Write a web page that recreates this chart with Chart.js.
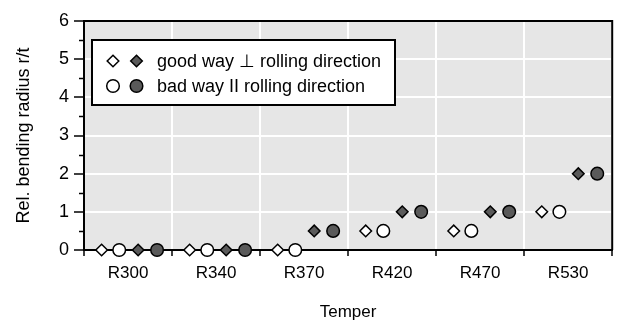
<!DOCTYPE html>
<html>
<head>
<meta charset="utf-8">
<script src="https://cdn.jsdelivr.net/npm/chart.js@4/dist/chart.umd.min.js"></script>
<style>
html,body{margin:0;padding:0;background:#fff;}
#wrap{width:620px;height:326px;position:relative;}
</style>
</head>
<body>
<div id="wrap"><canvas id="c" width="620" height="326"></canvas></div>
<script>
// ---- data ----
const categories = ['R300', 'R340', 'R370', 'R420', 'R470', 'R530'];
const goodWayOpen   = [0, 0, 0, 0.5, 0.5, 1];   // open diamond
const badWayOpen    = [0, 0, 0, 0.5, 0.5, 1];   // open circle
const goodWayFilled = [0, 0, 0.5, 1, 1, 2];     // filled diamond
const badWayFilled  = [0, 0, 0.5, 1, 1, 2];     // filled circle
const yTicks = [0, 1, 2, 3, 4, 5, 6];
const legendLabels = ['good way \u22A5 rolling direction', 'bad way II rolling direction'];
const xTitle = 'Temper';
const yTitle = 'Rel. bending radius r/t';

const FONT = "'Liberation Sans', Arial, sans-serif";
const DARK = '#5a5a5a';

function series(values, offset) {
  return values.map((v, i) => ({ x: i + 0.5 + offset, y: v }));
}

const datasets = [
  { label: 'good way open', data: series(goodWayOpen, -0.30), pointStyle: 'rectRot', pointRadius: 5.8, backgroundColor: '#fff' },
  { label: 'bad way open', data: series(badWayOpen, -0.10), pointStyle: 'circle', pointRadius: 6.3, backgroundColor: '#fff' },
  { label: 'good way filled', data: series(goodWayFilled, 0.115), pointStyle: 'rectRot', pointRadius: 5.8, backgroundColor: DARK },
  { label: 'bad way filled', data: series(badWayFilled, 0.33), pointStyle: 'circle', pointRadius: 6.3, backgroundColor: DARK }
].map(d => Object.assign(d, {
  xAxisID: 'xd', yAxisID: 'y', borderColor: '#000', pointBorderWidth: 1.5, borderWidth: 1.5,
  pointBackgroundColor: d.backgroundColor, pointBorderColor: '#000', showLine: false, clip: false,
  pointHoverRadius: d.pointRadius
}));

const framePlugin = {
  id: 'frame',
  beforeDraw(chart) {
    const a = chart.chartArea, ctx = chart.ctx;
    ctx.save();
    ctx.fillStyle = '#e6e6e6';
    ctx.fillRect(a.left, a.top, a.right - a.left, a.bottom - a.top);
    ctx.restore();
  },
  beforeDatasetsDraw(chart) {
    const a = chart.chartArea, ctx = chart.ctx;
    const y = chart.scales.y;
    ctx.save();
    ctx.strokeStyle = '#000';
    ctx.lineWidth = 2;
    ctx.beginPath();
    ctx.moveTo(a.left, a.top);
    ctx.lineTo(a.right, a.top);
    ctx.lineTo(a.right, a.bottom);
    ctx.stroke();
    // minor ticks on y axis
    ctx.lineWidth = 1.5;
    for (let i = 0; i < yTicks.length - 1; i++) {
      const v = (yTicks[i] + yTicks[i + 1]) / 2;
      const py = Math.round(y.getPixelForValue(v)) + 0.5;
      ctx.beginPath();
      ctx.moveTo(a.left - 5, py);
      ctx.lineTo(a.left, py);
      ctx.stroke();
    }
    ctx.restore();
  },
  afterDraw(chart) {
    const ctx = chart.ctx;
    const bx = 92, by = 40, bw = 303, bh = 65;
    ctx.save();
    ctx.fillStyle = '#fff';
    ctx.fillRect(bx, by, bw, bh);
    ctx.strokeStyle = '#000';
    ctx.lineWidth = 2;
    ctx.strokeRect(bx, by, bw, bh);
    const rows = [
      { y: 61, shape: 'diamond', label: legendLabels[0] },
      { y: 86, shape: 'circle', label: legendLabels[1] }
    ];
    rows.forEach(r => {
      [[113, '#fff'], [136.5, DARK]].forEach(([mx, fill]) => {
        ctx.beginPath();
        if (r.shape === 'diamond') {
          const s = 5.8;
          ctx.moveTo(mx, r.y - s); ctx.lineTo(mx + s, r.y); ctx.lineTo(mx, r.y + s); ctx.lineTo(mx - s, r.y); ctx.closePath();
        } else {
          ctx.arc(mx, r.y, 6.3, 0, Math.PI * 2);
        }
        ctx.fillStyle = fill; ctx.fill();
        ctx.lineWidth = 1.5; ctx.strokeStyle = '#000'; ctx.stroke();
      });
      ctx.fillStyle = '#000';
      ctx.font = '18px ' + FONT;
      ctx.textBaseline = 'middle';
      ctx.textAlign = 'left';
      ctx.fillText(r.label, 157, r.y + 1);
    });
    ctx.restore();
  }
};

new Chart(document.getElementById('c'), {
  type: 'scatter',
  data: { labels: categories, datasets },
  options: {
    responsive: false,
    animation: false,
    events: [],
    layout: { padding: { left: 0, right: 7, top: 21, bottom: 0 } },
    plugins: { legend: { display: false }, tooltip: { enabled: false } },
    scales: {
      x: {
        type: 'category',
        labels: categories,
        offset: true,
        grid: { offset: true, color: '#fff', lineWidth: 2, tickColor: '#000', tickLength: 6, tickWidth: 1.5 },
        border: { display: true, color: '#000', width: 2 },
        ticks: { color: '#000', font: { family: FONT, size: 17 }, padding: 7, maxRotation: 0 },
        title: { display: true, text: xTitle, color: '#000', font: { family: FONT, size: 17 }, padding: { top: 0, bottom: 3 } },
        afterFit(s) { s.height = 76; }
      },
      xd: { type: 'linear', display: false, min: 0, max: categories.length },
      y: {
        type: 'linear', min: yTicks[0], max: yTicks[yTicks.length - 1],
        afterBuildTicks(s) { s.ticks = yTicks.map(v => ({ value: v })); },
        grid: {
          color: c => (c.tick && c.tick.value === 0) ? 'rgba(0,0,0,0)' : '#fff',
          lineWidth: 2, tickColor: '#000', tickLength: 10, tickWidth: 1.5
        },
        border: { display: true, color: '#000', width: 2 },
        ticks: { color: '#000', font: { family: FONT, size: 18 }, padding: 5 },
        title: { display: true, text: yTitle, color: '#000', font: { family: FONT, size: 18 }, padding: { top: 13, bottom: 0 } },
        afterFit(s) { s.width = 84; }
      }
    }
  },
  plugins: [framePlugin]
});
</script>
</body>
</html>
